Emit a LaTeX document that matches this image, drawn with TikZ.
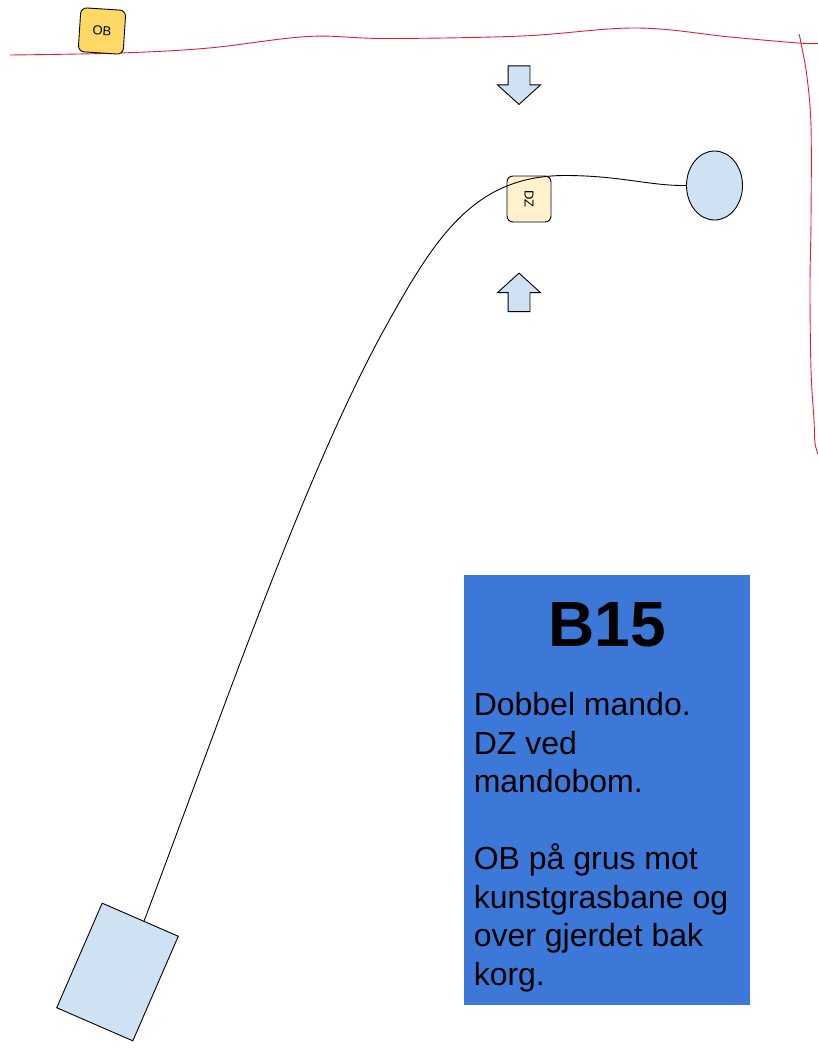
\documentclass[tikz,border=0pt]{standalone}
\usepackage{xcolor}
\usepackage{fontspec}
\setmainfont{Liberation Sans}
\usetikzlibrary{shapes,arrows,positioning,calc,arrows.meta}
\definecolor{obyellow}{HTML}{FFD966}
\definecolor{dzyellow}{HTML}{FFF2CC}
\definecolor{lightblue}{HTML}{CFE2F3}
\definecolor{panelblue}{HTML}{3C78D8}
\definecolor{fencered}{HTML}{E0202F}

\begin{document}
\begin{tikzpicture}[
    x=1pt, y=-1pt,
    line width=0.9pt,
    fence/.style={draw=fencered, line width=0.9pt},
    marker/.style={rectangle, draw, rounded corners=6pt, inner sep=0pt, font=\fontsize{13}{15}\selectfont},
    shape blue/.style={draw, fill=lightblue, inner sep=0pt},
    press/.style={shape blue, single arrow, inner sep=10.5pt, single arrow head extend=10.5pt, single arrow tip angle=95.5, minimum height=38.5pt, minimum width=42pt, anchor=tip},
    panel/.style={rectangle, fill=panelblue, inner sep=0pt, minimum width=286pt, minimum height=430pt},
    title/.style={inner sep=0pt, font=\fontsize{64}{70}\selectfont\bfseries},
    notes/.style={inner sep=0pt, align=left, anchor=north west, font=\fontsize{32}{38.5}\selectfont}
]
    \useasboundingbox (0,0) rectangle (818,1050);

    % fences
    \draw[fence] plot[smooth, tension=0.6] coordinates {(10,55) (120,53) (209,48) (308,36.5) (386,38.5) (522,36) (636,28) (730,37) (798,43) (818,43.5)};
    \draw[fence] plot[smooth, tension=0.6] coordinates {(799,34) (801,43) (807,77) (811,127) (811,220) (810,287) (811,370) (814,420) (815,443) (818,454)};

    \node[marker, fill=obyellow, rotate=-3.7, minimum width=45pt, minimum height=44pt] (ob) at (102,31) {OB\hspace{10pt}};
    \node[marker, fill=dzyellow, rotate=-90, minimum width=46pt, minimum height=44pt] (dz) at (529,199) {DZ\hspace{8pt}};

    \node[press, shape border rotate=270] (pressdown) at (519,105) {};
    \node[press, shape border rotate=90] (pressup) at (519,272.5) {};

    \node[shape blue, ellipse, minimum width=56pt, minimum height=69pt] (ball) at (714.5,185.5) {};
    \node[shape blue, rectangle, rotate=-23.5, minimum width=83pt, minimum height=114pt] (body) at (117.5,972) {};

    \coordinate (bend) at (380,337);
    \coordinate (crest) at (565,175.5);
    \draw (body.86) .. controls (224,709) and (300,487) .. (bend)
        .. controls (432,243) and (470,175.5) .. (crest)
        .. controls (620,175.5) and (650,186) .. (ball.west);

    \node[panel, anchor=north west] (info) at (464,575) {};
    \node[title] (heading) at (607,624.5) {B15};
    \node[notes] (text) at (473.3,692) {
        Dobbel mando. \\
        DZ ved \\
        mandobom. \\
        \\
        OB på grus mot \\
        kunstgrasbane og \\
        over gjerdet bak \\
        korg.
    };
\end{tikzpicture}
\end{document}
